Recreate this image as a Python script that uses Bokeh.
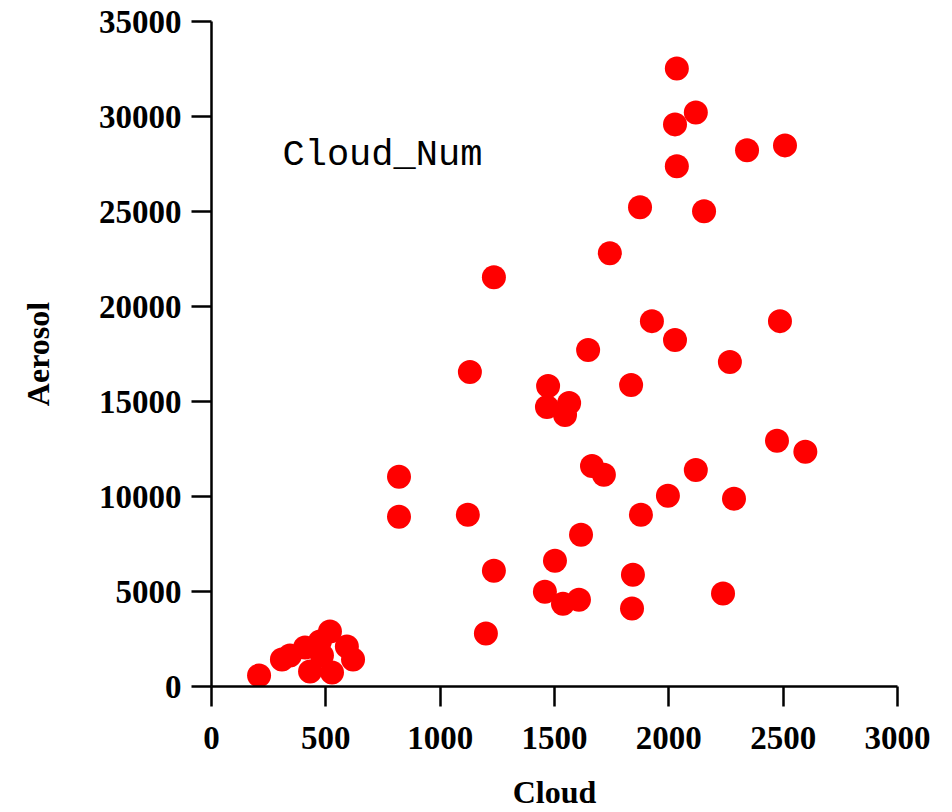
from bokeh.plotting import figure
from bokeh.models import Range1d, Label, FixedTicker
from bokeh.embed import file_html
from bokeh.resources import INLINE

# Cloud vs. aerosol number concentration
cloud = [2035, 2118, 2027, 2342, 2508, 2035, 1874, 2154, 1742, 1235,
         1926, 2486, 2027, 1647, 2267, 1130, 1472, 1835, 1467, 1564,
         1546, 2473, 2597, 1664, 1716, 2118, 820, 1996, 2285, 820,
         1121, 1878, 1616, 1502, 1235, 1843, 1458, 2237, 1537, 1607,
         1839, 1200,
         208, 308, 343, 409, 431, 474, 518, 527, 592, 619, 483]
aerosol = [32530, 30215, 29585, 28220, 28480, 27380, 25220, 25010, 22800, 21545,
           19230, 19230, 18235, 17710, 17080, 16550, 15820, 15870, 14710, 14920,
           14290, 12930, 12350, 11610, 11140, 11400, 11035, 10040, 9880, 8930,
           9040, 9040, 7990, 6620, 6095, 5885, 4990, 4890, 4360, 4570,
           4100, 2785,
           578, 1419, 1629, 2049, 788, 2365, 2890, 736, 2102, 1419, 1629]

x_ticks = [0, 500, 1000, 1500, 2000, 2500, 3000]
y_ticks = [0, 5000, 10000, 15000, 20000, 25000, 30000, 35000]

p = figure(width=952, height=812, output_backend="svg", toolbar_location=None,
           x_range=Range1d(0, 3000), y_range=Range1d(0, 35000),
           min_border_left=211, min_border_right=55,
           min_border_top=21, min_border_bottom=125)

p.outline_line_color = None
p.grid.visible = False
p.background_fill_color = "white"
p.border_fill_color = "white"

p.scatter(cloud, aerosol, size=24, color="#ff0000", line_color=None)

p.xaxis.ticker = FixedTicker(ticks=x_ticks)
p.yaxis.ticker = FixedTicker(ticks=y_ticks)

for ax in (p.xaxis[0], p.yaxis[0]):
    ax.axis_line_width = 2.5
    ax.axis_line_color = "black"
    ax.major_tick_line_width = 2.5
    ax.major_tick_line_color = "black"
    ax.major_tick_out = 20
    ax.major_tick_in = 0
    ax.minor_tick_out = 0
    ax.minor_tick_in = 0
    ax.major_label_text_font = "Liberation Serif"
    ax.major_label_text_font_style = "bold"
    ax.major_label_text_font_size = "33px"
    ax.major_label_text_color = "black"
    ax.axis_label_text_font = "Liberation Serif"
    ax.axis_label_text_font_style = "bold"
    ax.axis_label_text_font_size = "32px"
    ax.axis_label_text_color = "black"

p.xaxis.axis_label = "Cloud"
p.yaxis.axis_label = "Aerosol"
p.xaxis.major_label_standoff = 20
p.yaxis.major_label_standoff = 10
p.xaxis.axis_label_standoff = 22
p.yaxis.axis_label_standoff = 40

# series name, placed in screen units relative to the plot frame
p.add_layout(Label(x=71, y=532, x_units="screen", y_units="screen",
                   text="Cloud_Num", text_font="Liberation Mono",
                   text_font_size="37px", text_color="black",
                   text_baseline="alphabetic"))

open("out.html", "w").write(file_html(p, INLINE))
